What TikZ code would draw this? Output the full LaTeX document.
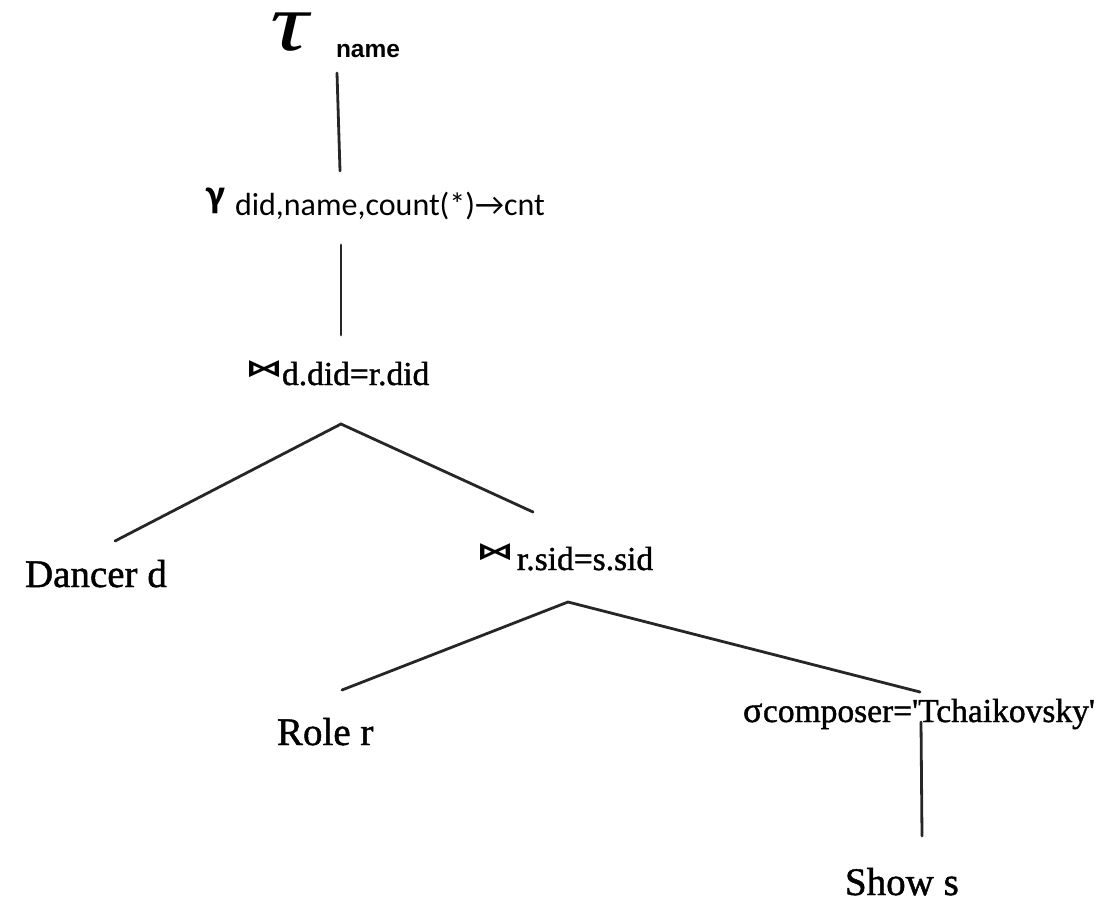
\documentclass[tikz,border=0pt]{standalone}
\usepackage{fontspec}
\usepackage{graphicx}
\setmainfont{Liberation Serif}
\newfontfamily\relfont{Liberation Serif}[FakeBold=1.2]
\newfontfamily\headsans{Liberation Sans}
\newfontfamily\opsans{Carlito}
\newfontfamily\symfont{DejaVu Sans}

\begin{document}
\begin{tikzpicture}[x=1pt,y=-1pt,
  lbl/.style={inner sep=0pt, outer sep=0pt, anchor=base west, text=black},
  rel/.style={lbl, font=\relfont\fontsize{39pt}{39pt}\selectfont},
  subs/.style={lbl, font=\relfont\fontsize{33.5pt}{33.5pt}\selectfont},
  bowtie/.style={inner sep=0pt, outer sep=0pt, anchor=north west, text=black},
  edge/.style={line width=2.8pt, draw=black!85, line cap=round}]
\useasboundingbox (0,0) rectangle (1110,902);

% projection
\node[lbl, font=\itshape\fontsize{82pt}{82pt}\selectfont] (tau) at (270,50) {\scalebox{1.3}[1]{τ}};
\node[lbl, font=\headsans\bfseries\fontsize{24.5pt}{24.5pt}\selectfont] (nm) at (336,57) {name};

% grouping
\node[lbl, font=\opsans\bfseries\fontsize{40pt}{40pt}\selectfont] (gam) at (206,207) {γ};
\node[lbl, font=\opsans\fontsize{32pt}{32pt}\selectfont] (gsub) at (235,215)
  {did,name,count(*)→cnt};

% first join
\node[bowtie] (j1op) at (245,361) {\resizebox*{38pt}{17pt}{\symfont\bfseries ⋈}};
\node[subs] (j1sub) at (282,385) {d.did=r.did};

% left leaf
\node[rel] (dancer) at (25,587) {Dancer d};

% second join
\node[bowtie] (j2op) at (476,544) {\resizebox*{38pt}{17pt}{\symfont\bfseries ⋈}};
\node[subs] (j2sub) at (517,570) {r.sid=s.sid};

% leaves of the second join
\node[rel] (role) at (277,745) {Role r};
\node[lbl, font=\relfont\fontsize{36pt}{36pt}\selectfont] (sig) at (743,722) {σ};
\node[subs] (sigsub) at (763,722) {composer='Tchaikovsky'};
\node[rel] (show) at (845,895) {Show s};

% tree edges
\draw[edge] ([shift={(1,16)}]nm.base west) -- ([shift={(105,-44)}]gsub.base west);
\draw[edge] ([shift={(106,30)}]gsub.base west) -- ([shift={(96,-26)}]j1op.north west);
\draw[edge] ([shift={(90,-46)}]dancer.base west) -- ([shift={(59,39)}]j1sub.base west)
            -- ([shift={(57,-32)}]j2op.north west);
\draw[edge] ([shift={(65,-55)}]role.base west) -- ([shift={(51,32)}]j2sub.base west)
            -- ([shift={(157,-30)}]sigsub.base west);
\draw[edge] ([shift={(158,0)}]sigsub.base west) -- ([shift={(77,-59)}]show.base west);
\end{tikzpicture}
\end{document}
